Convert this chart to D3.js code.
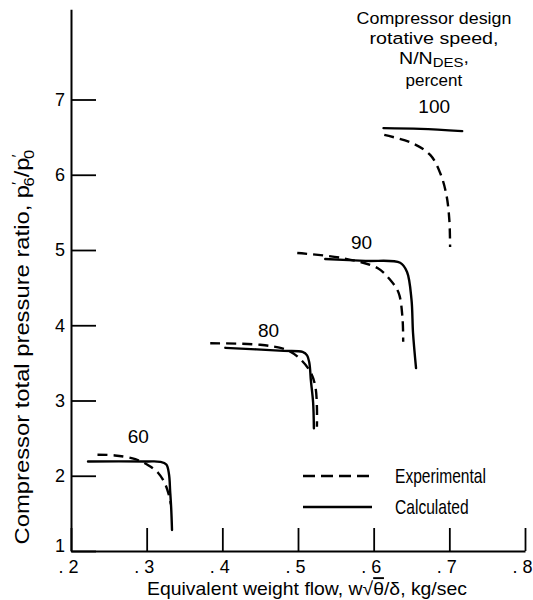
<!DOCTYPE html>
<html>
<head>
<meta charset="utf-8">
<script src="https://cdn.jsdelivr.net/npm/d3@7"></script>
<style>
  body { margin: 0; background: #fff; }
  svg { display: block; }
  text { font-family: "Liberation Sans", Arial, sans-serif; fill: #000; }
</style>
</head>
<body>
<svg width="533" height="600"></svg>
<script>
// speed lines, N/N_DES percent
const speeds = [60, 80, 90, 100];

// [flow kg/sec, pressure ratio]
const exp60 = [[0.235, 2.28], [0.258, 2.27], [0.285, 2.22], [0.302, 2.14], [0.315, 2.04], [0.324, 1.90], [0.330, 1.72], [0.332, 1.62]];
const calc60 = [[0.2225, 2.19], [0.30, 2.19], [0.318, 2.185], [0.326, 2.15], [0.3295, 2.02], [0.331, 1.80], [0.3325, 1.55], [0.3335, 1.28]];

const exp80 = [[0.384, 3.76], [0.450, 3.74], [0.486, 3.67], [0.503, 3.55], [0.517, 3.37], [0.523, 3.18], [0.525, 2.91], [0.525, 2.65]];
const calc80 = [[0.404, 3.70], [0.481, 3.66], [0.506, 3.645], [0.512, 3.60], [0.515, 3.50], [0.517, 3.27], [0.520, 2.97], [0.521, 2.63]];

const exp90 = [[0.499, 4.96], [0.560, 4.89], [0.605, 4.76], [0.622, 4.60], [0.633, 4.43], [0.638, 4.11], [0.639, 3.78]];
const calc90 = [[0.536, 4.88], [0.589, 4.855], [0.635, 4.83], [0.644, 4.71], [0.650, 4.34], [0.652, 3.90], [0.656, 3.43]];

const exp100 = [[0.614, 6.53], [0.651, 6.42], [0.675, 6.26], [0.688, 6.02], [0.696, 5.74], [0.700, 5.40], [0.701, 5.04]];
const calc100 = [[0.613, 6.62], [0.662, 6.61], [0.717, 6.58]];

// where each speed number sits
const speedLabelPos = [[0.289, 2.43], [0.461, 3.85], [0.584, 5.01], [0.680, 6.82]];

const xTicks = [0.2, 0.3, 0.4, 0.5, 0.6, 0.7, 0.8];
const yTicks = [1, 2, 3, 4, 5, 6, 7];
const legendItems = ["Experimental", "Calculated"];
const titleLines = ["Compressor design", "rotative speed,", "N/N_DES,", "percent"];

const svg = d3.select("svg");

const x = d3.scaleLinear().domain([0.2, 0.8]).range([71, 525]);
const y = d3.scaleLinear().domain([1, 8.2]).range([551, 9.2]);

// squeeze a text to a width, keeping its centre
function fit(sel, tx, ty, width, rot) {
    const b = sel.node().getBBox();
    const k = width / b.width;
    const cx = b.x + b.width / 2;
    sel.attr("transform", `translate(${tx},${ty})${rot ? " rotate(" + rot + ")" : ""} scale(${k},1) translate(${-cx},0)`);
}

// axes
const xAxis = d3.axisBottom(x)
    .tickValues(xTicks)
    .tickSize(-23)
    .tickSizeOuter(0)
    .tickPadding(9)
    .tickFormat(d => d3.format(".1f")(d).replace("0.", ". "));

const yAxis = d3.axisLeft(y)
    .tickValues(yTicks)
    .tickSize(-25)
    .tickSizeOuter(0)
    .tickPadding(6)
    .tickFormat(d3.format("d"));

const gx = svg.append("g").attr("transform", `translate(0,${y(1)})`).call(xAxis);
const gy = svg.append("g").attr("transform", `translate(${x(0.2)},0)`).call(yAxis);

[gx, gy].forEach(g => {
    g.select(".domain").attr("stroke", "#000").attr("stroke-width", 2);
    g.selectAll(".tick line").attr("stroke", "#000").attr("stroke-width", 1.8);
    g.selectAll(".tick text").attr("font-size", 18).attr("font-family", null).attr("fill", "#000");
});
gx.selectAll(".tick text").attr("dx", -3);
// the "1" sits a little above the x axis
gy.selectAll(".tick text").filter(d => d === 1).attr("dy", "0.05em");

// curves
const line = d3.line()
    .x(d => x(d[0]))
    .y(d => y(d[1]))
    .curve(d3.curveCatmullRom.alpha(0.5));

const expSets = [exp60, exp80, exp90, exp100];
const calcSets = [calc60, calc80, calc90, calc100];

const curves = svg.append("g").attr("fill", "none").attr("stroke", "#000").attr("stroke-width", 2.4);

curves.selectAll(".exp")
    .data(expSets)
    .enter().append("path")
    .attr("class", "exp")
    .attr("d", line)
    .attr("stroke-dasharray", "10,6");

curves.selectAll(".calc")
    .data(calcSets)
    .enter().append("path")
    .attr("class", "calc")
    .attr("d", line)
    .attr("stroke-linecap", "round");

svg.append("g").selectAll("text")
    .data(speeds)
    .enter().append("text")
    .attr("x", (d, i) => x(speedLabelPos[i][0]))
    .attr("y", (d, i) => y(speedLabelPos[i][1]))
    .attr("text-anchor", "middle")
    .attr("font-size", 19)
    .text(d => d);

// title block
const titleWidths = [155, 129, 70, 57];
const titleBase = [24, 44, 64, 86];
titleLines.forEach((s, i) => {
    const t = svg.append("text").attr("text-anchor", "middle").attr("font-size", 17);
    if (s.includes("_")) {
        const [a, rest] = s.split("_");
        t.append("tspan").text(a);
        t.append("tspan").attr("dy", 3).attr("font-size", 13).text(rest.replace(",", ""));
        t.append("tspan").attr("dy", -4).text(",");
    } else {
        t.text(s);
    }
    fit(t, 434, titleBase[i], titleWidths[i]);
});

// legend
const legend = svg.append("g");
legendItems.forEach((name, i) => {
    const ly = 476 + i * 31;
    legend.append("line")
        .attr("x1", 303).attr("x2", 372)
        .attr("y1", ly).attr("y2", ly)
        .attr("stroke", "#000").attr("stroke-width", 2.4)
        .attr("stroke-dasharray", i === 0 ? "12,6" : null);
    const t = legend.append("text")
        .attr("y", ly)
        .attr("dy", "0.35em")
        .attr("font-size", 20)
        .text(name);
    const w = t.node().getBBox().width * 0.78;
    fit(t, 395 + w / 2, 0, w);
});

// axis titles
const xt = svg.append("text")
    .attr("text-anchor", "middle")
    .attr("font-size", 19);
xt.append("tspan").text("Equivalent weight flow,  w");
xt.append("tspan").text("\u221A");
xt.append("tspan").style("text-decoration", "overline").text("\u03B8");
xt.append("tspan").text("/\u03B4,  kg/sec");
fit(xt, 307, 595, 320);

const yt = svg.append("text")
    .attr("text-anchor", "middle")
    .attr("font-size", 20);
yt.append("tspan").text("Compressor total pressure ratio,  p");
yt.append("tspan").attr("dy", -7).attr("font-size", 14).text("\u2032");
yt.append("tspan").attr("dx", -4).attr("dy", 12).attr("font-size", 14).text("6");
yt.append("tspan").attr("dy", -5).text("/p");
yt.append("tspan").attr("dy", -7).attr("font-size", 14).text("\u2032");
yt.append("tspan").attr("dx", -4).attr("dy", 12).attr("font-size", 14).text("0");
fit(yt, 29, 347, 395, -90);
</script>
</body>
</html>
